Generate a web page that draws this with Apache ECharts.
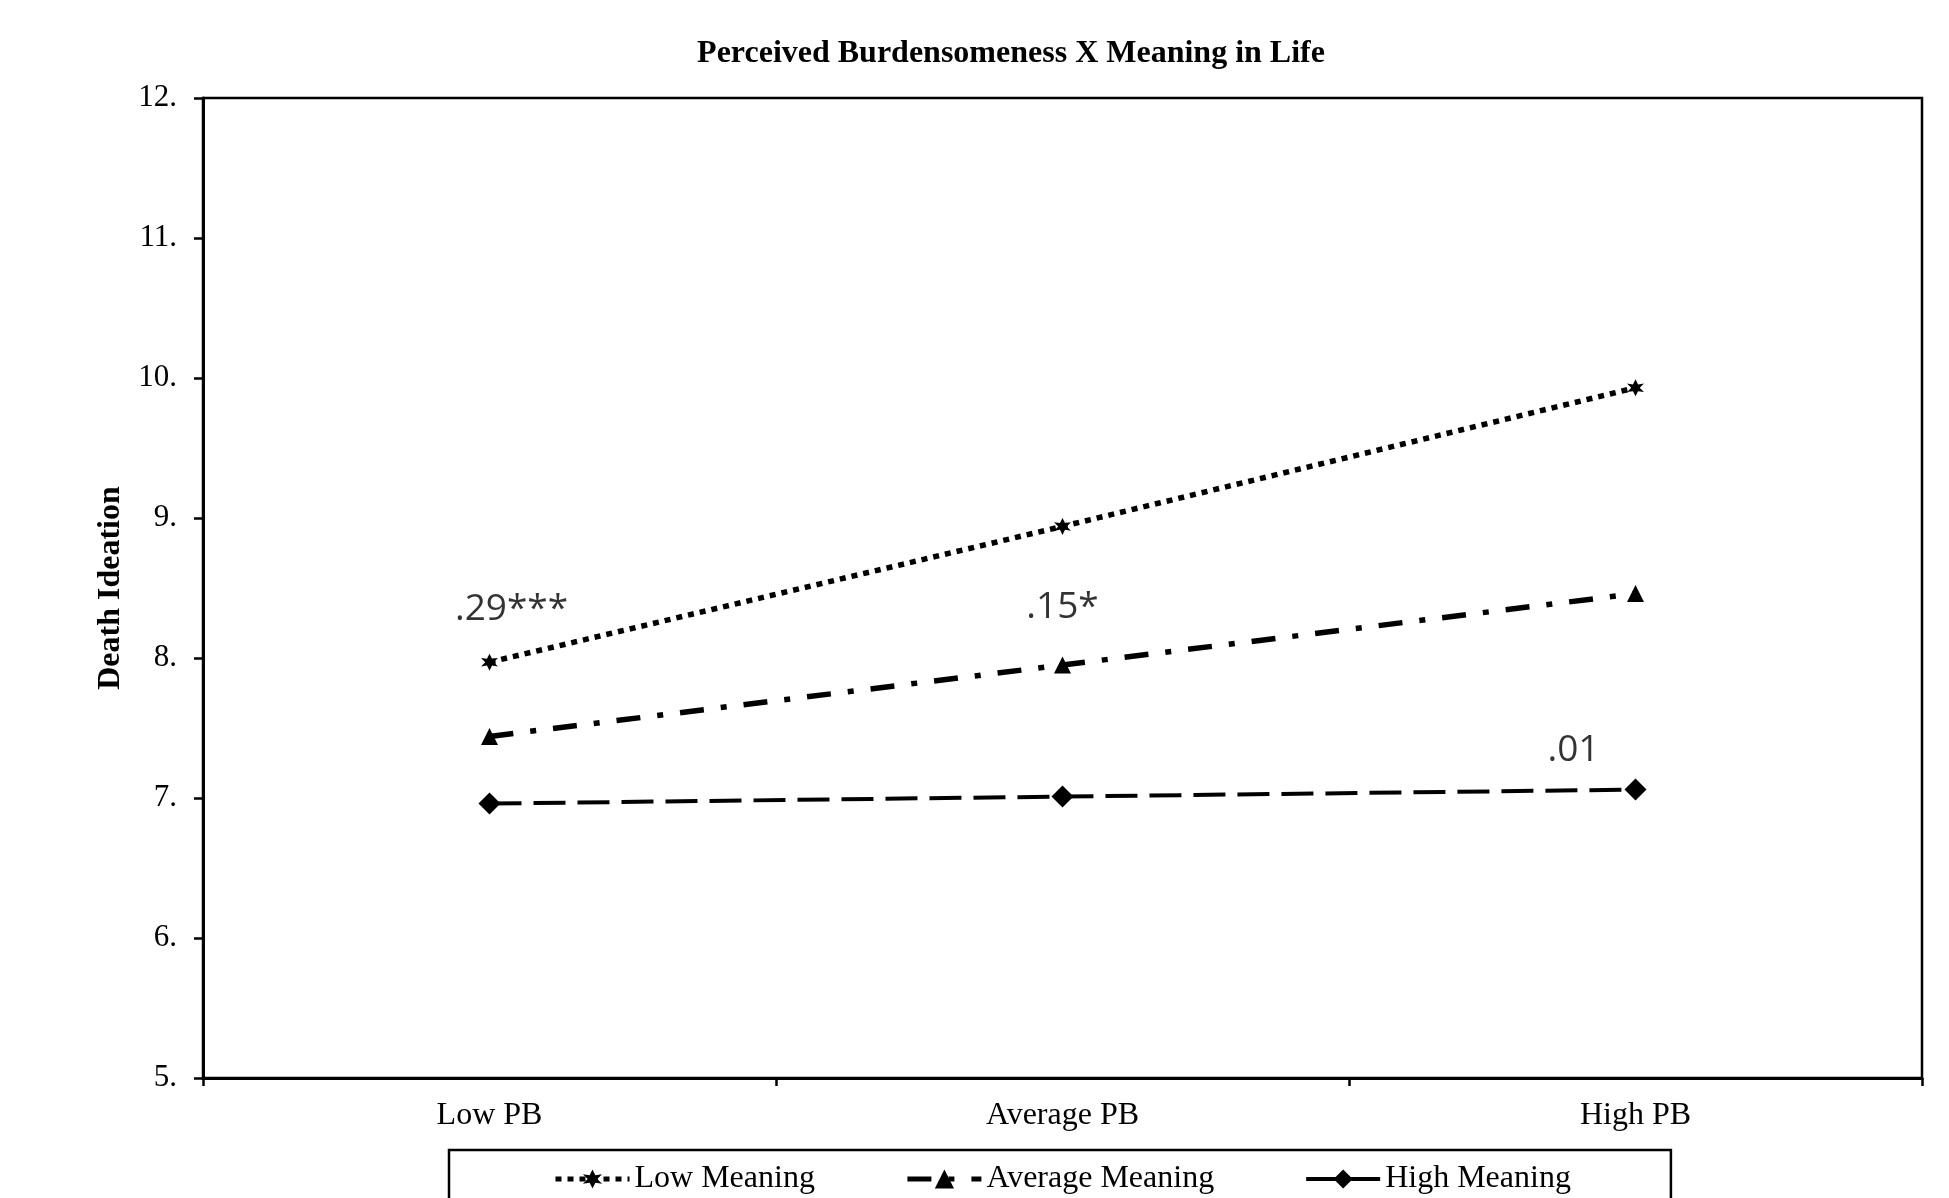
<!DOCTYPE html>
<html>
<head>
<meta charset="utf-8">
<script src="https://cdn.jsdelivr.net/npm/echarts@6/dist/echarts.min.js"></script>
<style>html,body{margin:0;padding:0;background:#fff}#c{width:1949px;height:1198px}</style>
</head>
<body>
<div id="c"></div>
<script>
const categories = ['Low PB', 'Average PB', 'High PB'];
const lowMeaning = [7.97, 8.94, 9.93];
const avgMeaning = [7.44, 7.95, 8.46];
const highMeaning = [6.96, 7.01, 7.06];
const yTicks = [5, 6, 7, 8, 9, 10, 11, 12];
const annotText = ['.29***', '.15*', '.01'];
const annotCategory = ['Low PB', 'Average PB', 'High PB'];
const annotValue = [8.35, 8.36, 7.34];

const serif = '"Liberation Serif", "Times New Roman", serif';
const annotOffsets = [[22, 0], [0, 0], [-62, 0]];
const starPath = 'path://M0,-10 L3,-4 L10,-5 L5,0 L10,5 L3,4 L0,10 L-3,4 L-10,5 L-5,0 L-10,-5 L-3,-4 Z';

const chart = echarts.init(document.getElementById('c'));
chart.setOption({
  animation: false,
  backgroundColor: '#fff',
  title: {
    text: 'Perceived Burdensomeness X Meaning in Life',
    left: 1006, top: 33, textAlign: 'center',
    textStyle: { fontFamily: serif, fontWeight: 'bold', fontSize: 32, color: '#000' }
  },
  grid: {
    left: 203, right: 27, top: 98, bottom: 120,
    show: true, borderColor: '#000', borderWidth: 2.5, backgroundColor: 'transparent'
  },
  legend: {
    left: 449, top: 1150,
    padding: [13, 100, 40, 104],
    borderColor: '#000', borderWidth: 2.5,
    itemWidth: 74, itemHeight: 24, itemGap: 90,
    data: [
      { name: 'Low Meaning', lineStyle: { width: 5 } },
      { name: 'Average Meaning', lineStyle: { width: 5 } },
      { name: 'High Meaning', lineStyle: { width: 4 } }
    ],
    textStyle: { fontFamily: serif, fontSize: 32, color: '#000' }
  },
  xAxis: {
    type: 'category', data: categories, boundaryGap: true,
    axisLine: { lineStyle: { color: '#000', width: 3 } },
    axisTick: { show: true, length: 8, lineStyle: { color: '#000', width: 2.5 } },
    axisLabel: { fontFamily: serif, fontSize: 32, color: '#000', margin: 22 },
    splitLine: { show: false }
  },
  yAxis: {
    type: 'value', min: yTicks[0], max: yTicks[yTicks.length - 1], interval: 1,
    name: 'Death Ideation', nameLocation: 'middle', nameGap: 76, nameRotate: 90,
    nameTextStyle: { fontFamily: serif, fontWeight: 'bold', fontSize: 32, color: '#000' },
    axisLine: { show: true, lineStyle: { color: '#000', width: 3 } },
    axisTick: { show: true, length: 9, lineStyle: { color: '#000', width: 2.5 } },
    axisLabel: { fontFamily: serif, fontSize: 31, color: '#000', margin: 26, formatter: v => v + '.' },
    splitLine: { show: false }
  },
  series: [
    {
      name: 'Low Meaning', type: 'line', data: lowMeaning,
      symbol: starPath, symbolSize: 17,
      lineStyle: { color: '#000', width: 5.5, type: [6, 6] },
      itemStyle: { color: '#000' }
    },
    {
      name: 'Average Meaning', type: 'line', data: avgMeaning,
      symbol: 'triangle', symbolSize: 17,
      lineStyle: { color: '#000', width: 5.5, type: [24, 17, 6, 17] },
      itemStyle: { color: '#000' }
    },
    {
      name: 'High Meaning', type: 'line', data: highMeaning,
      symbol: 'diamond', symbolSize: 22,
      lineStyle: { color: '#000', width: 4, type: [32, 12] },
      itemStyle: { color: '#000' }
    },
    {
      name: 'annotations', type: 'scatter', symbolSize: 0, silent: true,
      data: annotText.map((t, i) => ({
        value: [annotCategory[i], annotValue[i]],
        label: { show: true, formatter: t, position: 'inside', offset: annotOffsets[i],
          fontFamily: '"Open Sans", Lato, sans-serif', fontSize: 37, color: '#000' }
      }))
    }
  ]
});
</script>
</body>
</html>
